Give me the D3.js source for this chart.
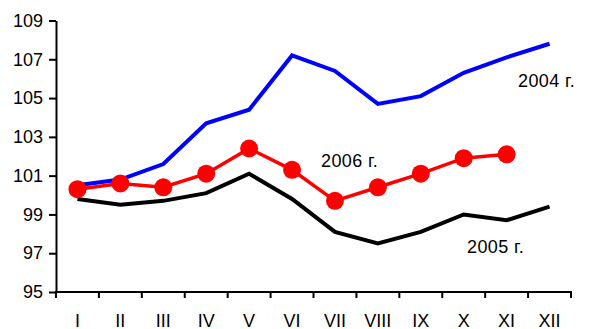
<!DOCTYPE html>
<html>
<head>
<meta charset="utf-8">
<script src="https://cdn.jsdelivr.net/npm/d3@7"></script>
<style>
  html, body { margin: 0; padding: 0; background: #fff; }
  svg { display: block; font-family: "Liberation Sans", Arial, sans-serif; }
</style>
</head>
<body>
<svg id="chart" width="595" height="329"></svg>
<script>
// Monthly index values by year
const months = ["I", "II", "III", "IV", "V", "VI", "VII", "VIII", "IX", "X", "XI", "XII"];
const values2004 = [100.5, 100.8, 101.6, 103.7, 104.4, 107.2, 106.4, 104.7, 105.1, 106.3, 107.1, 107.8];
const values2005 = [99.8, 99.5, 99.7, 100.1, 101.1, 99.8, 98.1, 97.5, 98.1, 99.0, 98.7, 99.4];
const values2006 = [100.3, 100.6, 100.4, 101.1, 102.4, 101.3, 99.7, 100.4, 101.1, 101.9, 102.1];
const yTicks = [95, 97, 99, 101, 103, 105, 107, 109];
const seriesLabels = ["2004 г.", "2005 г.", "2006 г."];

const svg = d3.select("#chart");
const plotLeft = 56, plotRight = 571, plotTop = 20.5, plotBottom = 292;
const fontSize = 18;

const x = d3.scaleBand().domain(months).range([plotLeft, plotRight]).paddingInner(0).paddingOuter(0);
const cx = m => x(m) + x.bandwidth() / 2;
const y = d3.scaleLinear().domain([95, 109]).range([plotBottom, plotTop]);

// Y axis
const yAxis = svg.append("g")
  .attr("transform", `translate(${plotLeft},0)`)
  .call(d3.axisLeft(y).tickValues(yTicks).tickSize(7).tickPadding(6).tickSizeOuter(0));
yAxis.select(".domain").attr("stroke", "#000").attr("stroke-width", 2);
yAxis.selectAll(".tick line").attr("stroke", "#000").attr("stroke-width", 2);
yAxis.selectAll(".tick text").attr("font-size", fontSize).attr("fill", "#000")
  .attr("font-family", "'Liberation Sans', Arial, sans-serif");

// X axis: ticks between the months, labels centred in each band
const xAxis = svg.append("g").attr("transform", `translate(0,${plotBottom})`);
xAxis.append("line")
  .attr("x1", plotLeft - 1).attr("x2", plotRight + 1)
  .attr("stroke", "#000").attr("stroke-width", 2);
const boundaries = months.map(m => x(m)).concat([x(months[months.length - 1]) + x.bandwidth()]);
xAxis.selectAll("line.tk").data(boundaries).join("line")
  .attr("class", "tk")
  .attr("x1", d => d).attr("x2", d => d)
  .attr("y1", 0).attr("y2", 6)
  .attr("stroke", "#000").attr("stroke-width", 2);
xAxis.selectAll("text").data(months).join("text")
  .attr("x", d => cx(d)).attr("y", 34.5)
  .attr("text-anchor", "middle")
  .attr("font-size", fontSize).attr("fill", "#000")
  .text(d => d);

const line = d3.line().x((d, i) => cx(months[i])).y(d => y(d));

// 2005
svg.append("path").datum(values2005)
  .attr("d", line).attr("fill", "none")
  .attr("stroke", "#000").attr("stroke-width", 4).attr("stroke-linejoin", "miter");

// 2004
svg.append("path").datum(values2004)
  .attr("d", line).attr("fill", "none")
  .attr("stroke", "#0000ff").attr("stroke-width", 4).attr("stroke-linejoin", "miter");

// 2006 with markers
svg.append("path").datum(values2006)
  .attr("d", line).attr("fill", "none")
  .attr("stroke", "#ff0000").attr("stroke-width", 3.5);
svg.selectAll("circle.m2006").data(values2006).join("circle")
  .attr("class", "m2006")
  .attr("cx", (d, i) => cx(months[i])).attr("cy", d => y(d))
  .attr("r", 9).attr("fill", "#ff0000");

// Series labels
const labelPos = [
  { text: seriesLabels[0], x: 518, y: 87 },
  { text: seriesLabels[1], x: 467, y: 253 },
  { text: seriesLabels[2], x: 321, y: 167 }
];
svg.selectAll("text.series").data(labelPos).join("text")
  .attr("class", "series")
  .attr("x", d => d.x).attr("y", d => d.y)
  .attr("font-size", fontSize).attr("fill", "#000")
  .attr("letter-spacing", 0.4)
  .text(d => d.text);
</script>
</body>
</html>
